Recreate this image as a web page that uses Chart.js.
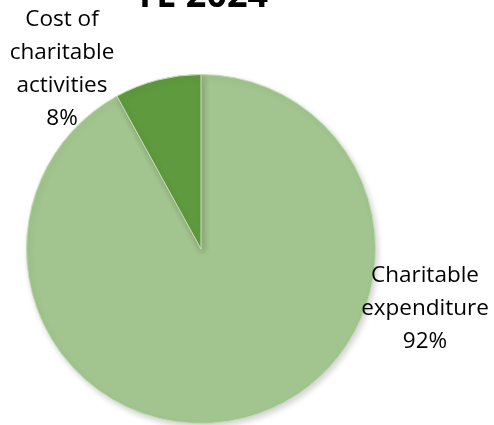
<!DOCTYPE html>
<html>
<head>
<meta charset="utf-8">
<script src="https://cdn.jsdelivr.net/npm/chart.js@4"></script>
<style>
  html, body { margin: 0; padding: 0; background: #fff; }
  #wrap { width: 494px; height: 425px; }
</style>
</head>
<body>
<div id="wrap"><canvas id="myChart"></canvas></div>
<script>
// data
const categories = ['Charitable expenditure', 'Cost of charitable activities'];
const shares = [92, 8];
const sliceColors = ['#A2C58F', '#5F9A3E'];
const titleText = 'YE 2024';

// label lines for each slice
const labelLines = [
  ['Charitable', 'expenditure', '92%'],
  ['Cost of', 'charitable', 'activities', '8%']
];
// offset of each label block from the pie centre
const labelOffsets = [[224, 60], [-139, -180]];

const labelFont = '22.5px "Open Sans", "Noto Sans", sans-serif';

// labels outside the slices, Excel style
const outsideLabels = {
  id: 'outsideLabels',
  afterDatasetsDraw(chart) {
    const c = chart.ctx;
    const meta = chart.getDatasetMeta(0);
    c.save();
    c.font = labelFont;
    c.fillStyle = '#000';
    c.textAlign = 'center';
    c.textBaseline = 'middle';
    meta.data.forEach((arc, i) => {
      const lines = labelLines[i];
      const lh = 33;
      const x = arc.x + labelOffsets[i][0];
      const y = arc.y + labelOffsets[i][1];
      const top = y - (lines.length - 1) * lh / 2;
      lines.forEach((t, k) => c.fillText(t, x, top + k * lh));
    });
    c.restore();
  }
};

// title sits partly above the canvas in the reference
const cutTitle = {
  id: 'cutTitle',
  afterDraw(chart) {
    const c = chart.ctx;
    const meta = chart.getDatasetMeta(0);
    c.save();
    c.font = 'bold 36px "Open Sans", "Noto Sans", sans-serif';
    c.fillStyle = '#000';
    c.textAlign = 'center';
    c.textBaseline = 'alphabetic';
    c.fillText(titleText, meta.data[0].x, 7);
    c.restore();
  }
};

// soft shadow under the pie
const pieShadow = {
  id: 'pieShadow',
  beforeDatasetsDraw(chart) {
    const c = chart.ctx;
    c.save();
    c.shadowColor = 'rgba(0,0,0,0.18)';
    c.shadowBlur = 6;
    c.shadowOffsetX = 2;
    c.shadowOffsetY = 3;
  },
  afterDatasetsDraw(chart) {
    chart.ctx.restore();
  }
};

let ctx = document.getElementById('myChart');

let config = {
  type: 'pie',
  data: {
    labels: categories,
    datasets: [{
      data: shares,
      backgroundColor: sliceColors,
      borderColor: '#C5DCB8',
      borderWidth: 1
    }]
  },
  options: {
    responsive: true,
    maintainAspectRatio: false,
    animation: false,
    layout: { padding: { top: 74, bottom: 1, left: 26, right: 118 } },
    plugins: {
      legend: { display: false },
      tooltip: { enabled: false },
      title: { display: false }
    }
  },
  plugins: [pieShadow, outsideLabels, cutTitle]
};

let myChart = new Chart(ctx, config);
</script>
</body>
</html>
